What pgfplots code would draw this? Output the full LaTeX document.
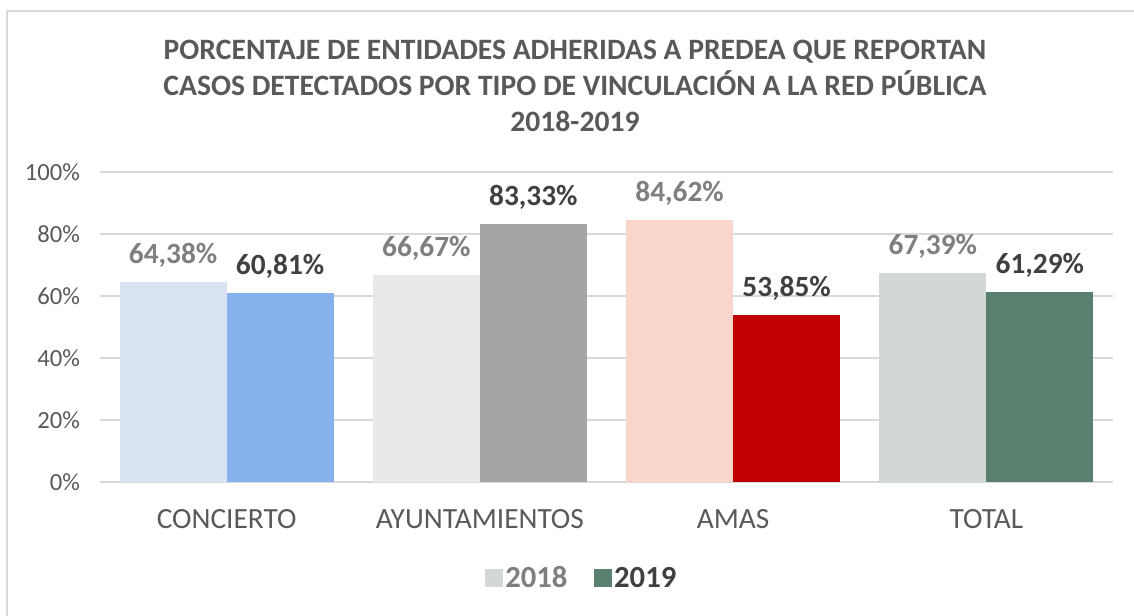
\documentclass[border=0pt]{standalone}
\usepackage{fontspec}
\setmainfont{Carlito}
\usepackage{pgfplots}
\pgfplotsset{compat=1.18}
\definecolor{txt}{HTML}{595959}
\definecolor{gridc}{HTML}{D9D9D9}
\definecolor{lab18}{HTML}{7F7F7F}
\definecolor{lab19}{HTML}{404040}
\definecolor{ca}{HTML}{DAE3F3}
\definecolor{cb}{HTML}{87B1EA}
\definecolor{cc}{HTML}{E8EAE9}
\definecolor{cd}{HTML}{A5A5A5}
\definecolor{ce}{HTML}{FAD5CC}
\definecolor{cf}{HTML}{C00000}
\definecolor{cg}{HTML}{D1D8D5}
\definecolor{ch}{HTML}{5A8070}
\newcommand{\px}[2]{({(#1-100)*0.75pt},{(482-#2)*0.75pt})}
\begin{document}
\begin{tikzpicture}
\useasboundingbox \px{0}{615} rectangle \px{1134}{0};
\draw[gridc, line width=1.5pt] \px{7.5}{620} -- \px{7.5}{11.5} -- \px{1140}{11.5};
\begin{axis}[
  at={(0,0)}, anchor=south west,
  scale only axis, width=759.75pt, height=232.5pt,
  xmin=-0.5, xmax=3.5, ymin=0, ymax=100,
  axis line style={draw=none}, major tick length=0pt,
  ytick={0,20,...,100}, ymajorgrids, grid style={gridc, line width=1.1pt},
  yticklabel={\pgfmathprintnumber{\tick}\%},
  yticklabel style={font=\fontsize{18.5}{21}\selectfont, text=txt, xshift=-11.5pt},
  xtick={0,1,2,3},
  xticklabels={CONCIERTO,AYUNTAMIENTOS,AMAS,TOTAL},
  xticklabel style={font=\fontsize{22}{26}\selectfont, text=txt, yshift=-17.25pt},
  /pgf/number format/assume math mode=true,
  clip=false,
  every axis plot/.append style={draw=none, bar width=80.25pt},
  lbl18/.style={nodes near coords={\pgfmathprintnumber[fixed,fixed zerofill,precision=2,use comma]{\pgfplotspointmeta}\%},
     every node near coord/.append style={font=\fontsize{22}{26}\selectfont\bfseries, text=lab18, anchor=center, yshift=20pt, xshift=-40.125pt}},
  lbl19/.style={nodes near coords={\pgfmathprintnumber[fixed,fixed zerofill,precision=2,use comma]{\pgfplotspointmeta}\%},
     every node near coord/.append style={font=\fontsize{22}{26}\selectfont\bfseries, text=lab19, anchor=center, yshift=20pt, xshift=40.125pt}},
  legend style={at={(0.476,-0.31)}, anchor=center, draw=none, fill=none,
     font=\fontsize{23}{26}\selectfont\bfseries, legend columns=2,
     /tikz/every even column/.append style={column sep=18pt},
     legend cell align=left, inner sep=0pt},
]
\addplot[ybar, fill=ca, bar shift=-40.125pt, lbl18, forget plot] coordinates {(0,64.38)};
\addplot[ybar, fill=cb, bar shift=40.125pt, lbl19, forget plot] coordinates {(0,60.81)};
\addplot[ybar, fill=cc, bar shift=-40.125pt, lbl18, forget plot] coordinates {(1,66.67)};
\addplot[ybar, fill=cd, bar shift=40.125pt, lbl19, forget plot] coordinates {(1,83.33)};
\addplot[ybar, fill=ce, bar shift=-40.125pt, lbl18, forget plot] coordinates {(2,84.62)};
\addplot[ybar, fill=cf, bar shift=40.125pt, lbl19, forget plot] coordinates {(2,53.85)};
\addplot[ybar, fill=cg, bar shift=-40.125pt, lbl18, forget plot] coordinates {(3,67.39)};
\addplot[ybar, fill=ch, bar shift=40.125pt, lbl19, forget plot] coordinates {(3,61.29)};
\addlegendimage{legend image code/.code={\fill[cg] (0pt,-6.6pt) rectangle (13pt,6.6pt);}}
\addlegendentry{\textcolor{lab18}{2018}}
\addlegendimage{legend image code/.code={\fill[ch] (0pt,-6.6pt) rectangle (13pt,6.6pt);}}
\addlegendentry{\textcolor{lab19}{2019}}
\end{axis}
\node[font=\fontsize{22.2}{27.2}\selectfont\bfseries, text=txt, align=center] at \px{575}{86}
  {PORCENTAJE DE ENTIDADES ADHERIDAS A PREDEA QUE REPORTAN\\CASOS DETECTADOS POR TIPO DE VINCULACIÓN A LA RED PÚBLICA\\2018-2019};
\end{tikzpicture}
\end{document}
